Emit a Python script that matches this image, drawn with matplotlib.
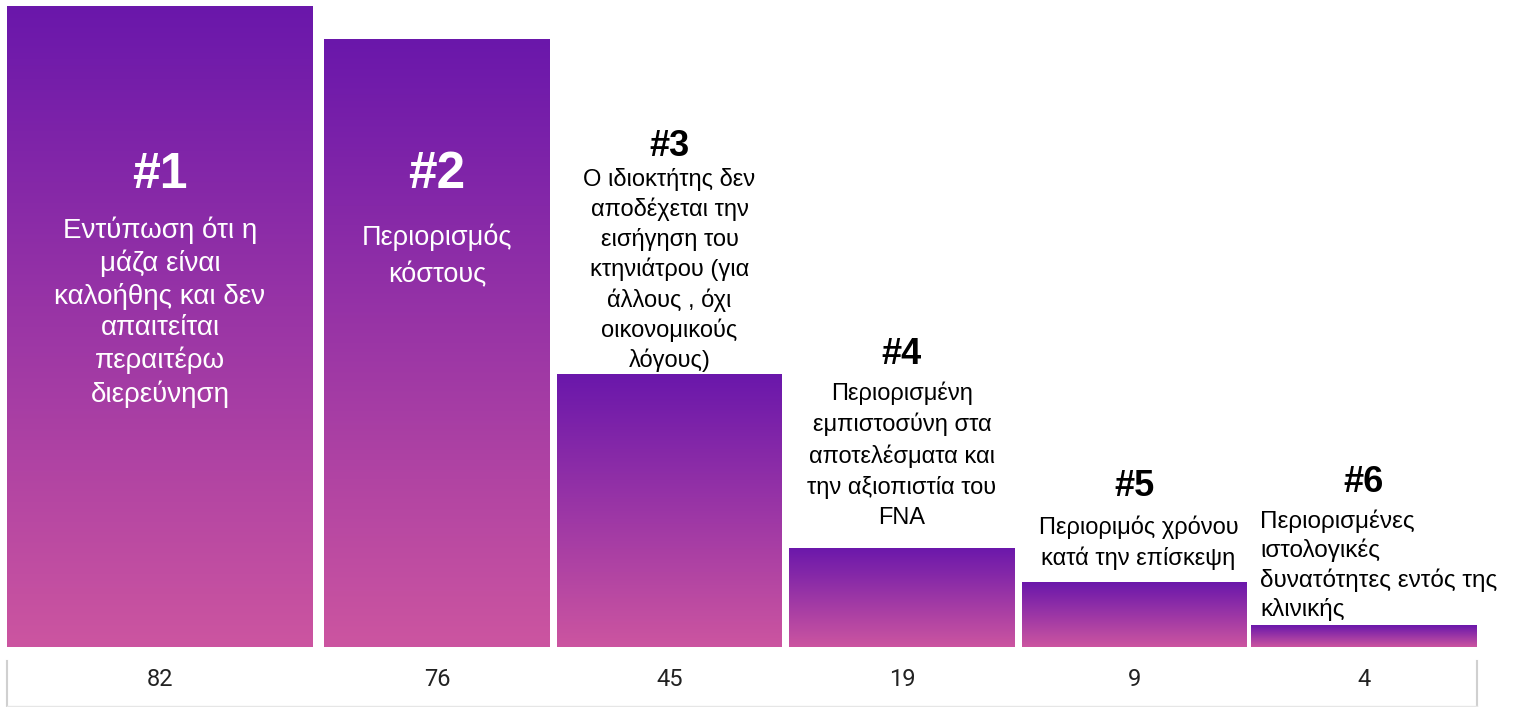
import numpy as np
import matplotlib.pyplot as plt
from matplotlib.colors import LinearSegmentedColormap

# data
ranks = ["#1", "#2", "#3", "#4", "#5", "#6"]
reasons = [
    "Εντύπωση ότι η\nμάζα είναι\nκαλοήθης και δεν\nαπαιτείται\nπεραιτέρω\nδιερεύνηση",
    "Περιορισμός\nκόστους",
    "Ο ιδιοκτήτης δεν\nαποδέχεται την\nεισήγηση του\nκτηνιάτρου (για\nάλλους , όχι\nοικονομικούς\nλόγους)",
    "Περιορισμένη\nεμπιστοσύνη στα\nαποτελέσματα και\nτην αξιοπιστία του\nFNA",
    "Περιοριμός χρόνου\nκατά την επίσκεψη",
    "Περιορισμένες\nιστολογικές\nδυνατότητες εντός της\nκλινικής",
]
counts = [82, 76, 45, 19, 9, 4]
# drawn bar heights (not proportional to the counts in the original)
bar_heights = [82, 77.8, 34.9, 12.7, 8.3, 2.8]

# layout (pixels)
W, H = 1515, 707
base_px = 647
bar_left = [7, 324, 557, 789, 1022, 1251]
bar_width = [306, 226, 225, 226, 225, 226]

fig = plt.figure(figsize=(W / 100, H / 100), dpi=100)
ax = fig.add_axes([0, (H - base_px) / H, 1, base_px / H])
ax.axis("off")

cmap = LinearSegmentedColormap.from_list("grad", ["#cc55a0", "#6a17ab"])
grad = np.linspace(0, 1, 256).reshape(-1, 1)

bars = ax.bar(bar_left, bar_heights, width=bar_width, align="edge",
              color="none", edgecolor="none")
for b in bars:
    x0, w, h = b.get_x(), b.get_width(), b.get_height()
    im = ax.imshow(grad, cmap=cmap, origin="lower", aspect="auto",
                   extent=[x0, x0 + w, 0, h], interpolation="bicubic")
    im.set_clip_path(b)
ax.set_xlim(0, W)
ax.set_ylim(0, 82 * base_px / 641)


def fx(x):
    return x / W


def fy(y):
    return 1 - y / H


font = "Liberation Sans"
centers = [l + w / 2 for l, w in zip(bar_left, bar_width)]

# rank / reason positions (pixel y of rank center, reason block center)
rank_y = [175, 175, 146, 355, 486, 482]
rank_size = [36, 37, 26, 26, 26, 26]
reason_y = [312, 256, 270, 455, 543, 565]
reason_size = [20, 19.5, 17, 17, 17, 17.5]
reason_spacing = [1.27, 1.55, 1.37, 1.45, 1.4, 1.33]
txt_col = ["white", "white", "black", "black", "black", "black"]

for i in range(6):
    fig.text(fx(centers[i]), fy(rank_y[i]), ranks[i], ha="center", va="center",
             fontsize=rank_size[i], fontweight="bold", color=txt_col[i],
             family=font)
    if i == 5:
        fig.text(fx(1260), fy(reason_y[i]), reasons[i], ha="left", va="center",
                 fontsize=reason_size[i], color=txt_col[i], family=font,
                 linespacing=reason_spacing[i], multialignment="left")
    else:
        fig.text(fx(centers[i] + (4 if i == 4 else 0)), fy(reason_y[i]),
                 reasons[i], ha="center", va="center",
                 fontsize=reason_size[i], color=txt_col[i],
                 family=font, linespacing=reason_spacing[i])

# value row
tab = fig.add_axes([fx(7), 1 - 706 / H, (1477 - 7) / W, (706 - 661) / H])
tab.set_xlim(7, 1477)
tab.set_ylim(0, 1)
tab.set_xticks([])
tab.set_yticks([])
tab.spines["top"].set_visible(False)
for s in ["left", "right"]:
    tab.spines[s].set_color("#d0d0d0")
    tab.spines[s].set_linewidth(1.5)
tab.spines["bottom"].set_color("#e6e6e6")
tab.spines["bottom"].set_linewidth(1)
for c, v in zip(centers, counts):
    tab.text(c, 0.58, str(v), ha="center", va="center", fontsize=17,
             family="Roboto", color="#222222")

fig.savefig("out.png", dpi=100)
